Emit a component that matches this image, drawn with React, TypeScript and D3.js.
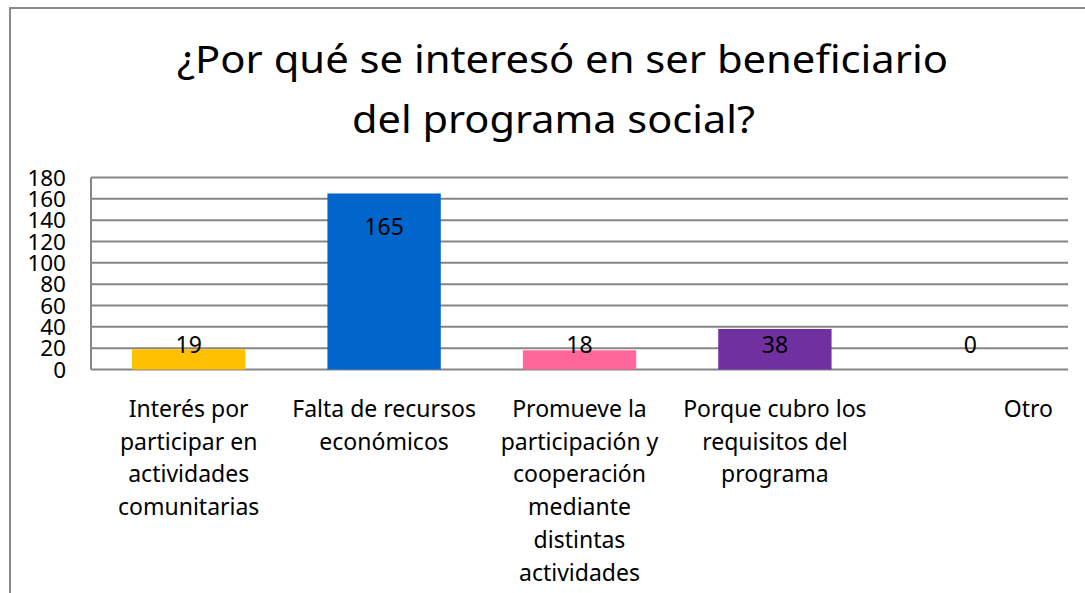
import React, { useEffect, useRef } from "react";
import * as d3 from "d3";

const titleLines = ["¿Por qué se interesó en ser beneficiario", "del programa social?"];
const categories = [
  "Interés por\nparticipar en\nactividades\ncomunitarias",
  "Falta de recursos\neconómicos",
  "Promueve la\nparticipación y\ncooperación\nmediante\ndistintas\nactividades",
  "Porque cubro los\nrequisitos del\nprograma",
  "Otro",
];
const values = [19, 165, 18, 38, 0];
const colors = ["#FFC000", "#0066CC", "#FF6699", "#7030A0", "#4472C4"];
const yTicks = [0, 20, 40, 60, 80, 100, 120, 140, 160, 180];

const FONT = "'Noto Sans', 'Open Sans', sans-serif";

export default function App() {
  const ref = useRef<SVGSVGElement | null>(null);
  useEffect(() => {
    const svg = d3.select(ref.current);
    svg.selectAll("*").remove();
    const W = 1085, H = 593;
    const left = 91, right = 1068, top = 177.5, bottom = 369.5;

    svg.append("rect").attr("width", W).attr("height", H).attr("fill", "#fff");
    svg.append("rect")
      .attr("x", 10).attr("y", 8).attr("width", 1200).attr("height", 800)
      .attr("fill", "none").attr("stroke", "#8a8a8a").attr("stroke-width", 2);

    // title
    const tg = svg.append("g");
    const titleY = [73, 133];
    const titleX = [562.5, 553.5];
    const titleW = [771, 403];
    titleLines.forEach((t, i) => {
      tg.append("text")
        .attr("x", titleX[i]).attr("y", titleY[i])
        .attr("text-anchor", "middle")
        .attr("font-family", FONT).attr("font-size", 38)
        .attr("textLength", titleW[i]).attr("lengthAdjust", "spacingAndGlyphs")
        .attr("fill", "#000")
        .text(t);
    });

    const x = d3.scaleBand<number>().domain(d3.range(categories.length)).range([left, right]).paddingInner(0.42).paddingOuter(0.21);
    const y = d3.scaleLinear().domain([0, 180]).range([bottom, top]);

    // gridlines
    const g = svg.append("g");
    g.selectAll("line.grid").data(yTicks).enter().append("line")
      .attr("x1", left).attr("x2", right)
      .attr("y1", (d) => y(d)).attr("y2", (d) => y(d))
      .attr("stroke", "#868686").attr("stroke-width", 2);
    g.append("line").attr("x1", left).attr("x2", left).attr("y1", top).attr("y2", bottom)
      .attr("stroke", "#868686").attr("stroke-width", 2);

    // y tick labels
    g.selectAll("text.yt").data(yTicks).enter().append("text")
      .attr("x", 66).attr("y", (d) => y(d) + 8)
      .attr("text-anchor", "end")
      .attr("font-family", FONT).attr("font-size", 22.5).attr("fill", "#000")
      .text((d) => String(d));

    // bars
    g.selectAll("rect.bar").data(values).enter().append("rect")
      .attr("x", (_d, i) => x(i)!)
      .attr("width", x.bandwidth())
      .attr("y", (d) => y(d))
      .attr("height", (d) => bottom - y(d))
      .attr("fill", (_d, i) => colors[i]);

    // data labels
    g.selectAll("text.dl").data(values).enter().append("text")
      .attr("x", (_d, i) => x(i)! + x.bandwidth() / 2)
      .attr("y", (d) => Math.min(y(d) + 41, 353))
      .attr("text-anchor", "middle")
      .attr("font-family", FONT).attr("font-size", 23).attr("fill", "#000")
      .text((d) => String(d));

    // category labels
    categories.forEach((c, i) => {
      const lines = c.split("\n");
      const cx = x(i)! + x.bandwidth() / 2 + (i === categories.length - 1 ? 58 : 0);
      const t = g.append("text")
        .attr("text-anchor", "middle")
        .attr("font-family", FONT).attr("font-size", 23).attr("fill", "#000");
      lines.forEach((l, j) => {
        t.append("tspan").attr("x", cx).attr("y", 417 + j * 32.7).text(l);
      });
    });
  }, []);
  return (
    <svg
      ref={ref}
      width={1085}
      height={593}
      style={{ position: "absolute", left: 0, top: 0, display: "block" }}
    />
  );
}
